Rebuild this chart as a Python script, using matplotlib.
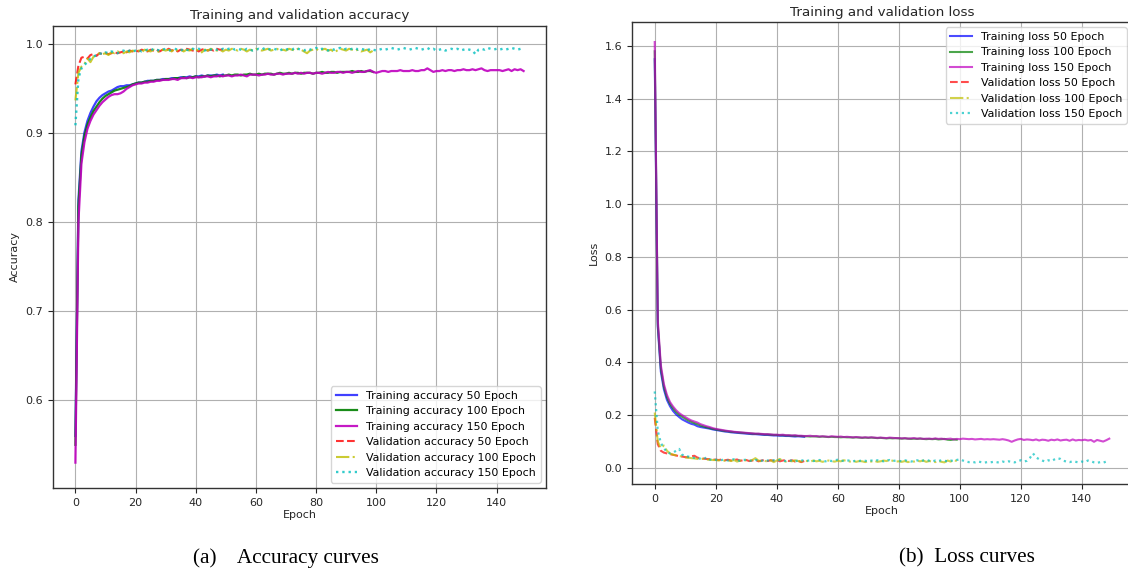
import matplotlib
matplotlib.use("Agg")
import matplotlib.pyplot as plt
import numpy as np

# ---------------- data: accuracy ----------------
acc_train_50 = [
    0.560, 0.825, 0.880, 0.901, 0.914, 0.923, 0.930, 0.936, 0.940, 0.943,
    0.945, 0.947, 0.948, 0.950, 0.952, 0.953, 0.953, 0.954, 0.954, 0.955,
    0.956, 0.957, 0.957, 0.958, 0.959, 0.959, 0.959, 0.960, 0.960, 0.961,
    0.961, 0.961, 0.962, 0.962, 0.962, 0.963, 0.963, 0.963, 0.964, 0.963,
    0.964, 0.964, 0.965, 0.964, 0.965, 0.965, 0.965, 0.966, 0.965, 0.966]
acc_train_100 = [
    0.550, 0.818, 0.875, 0.897, 0.910, 0.918, 0.925, 0.930, 0.935, 0.939,
    0.942, 0.944, 0.946, 0.948, 0.949, 0.950, 0.951, 0.952, 0.953, 0.955,
    0.956, 0.957, 0.957, 0.958, 0.958, 0.959, 0.959, 0.960, 0.960, 0.960,
    0.961, 0.961, 0.961, 0.962, 0.962, 0.962, 0.963, 0.962, 0.963, 0.963,
    0.964, 0.963, 0.964, 0.964, 0.965, 0.964, 0.965, 0.965, 0.964, 0.965,
    0.965, 0.966, 0.965, 0.966, 0.966, 0.965, 0.966, 0.966, 0.967, 0.966,
    0.966, 0.967, 0.966, 0.967, 0.967, 0.967, 0.966, 0.967, 0.968, 0.967,
    0.967, 0.968, 0.967, 0.968, 0.968, 0.967, 0.968, 0.968, 0.968, 0.967,
    0.968, 0.968, 0.969, 0.968, 0.968, 0.969, 0.969, 0.968, 0.969, 0.969,
    0.969, 0.969, 0.970, 0.969, 0.969, 0.970, 0.969, 0.970, 0.970, 0.969]
acc_train_150 = [
    0.530, 0.800, 0.866, 0.890, 0.905, 0.914, 0.921, 0.926, 0.931, 0.935,
    0.938, 0.941, 0.943, 0.944, 0.944, 0.945, 0.947, 0.950, 0.952, 0.954,
    0.955, 0.956, 0.956, 0.957, 0.957, 0.958, 0.958, 0.959, 0.959, 0.960,
    0.960, 0.960, 0.961, 0.961, 0.960, 0.962, 0.962, 0.962, 0.963, 0.962,
    0.963, 0.963, 0.963, 0.964, 0.964, 0.963, 0.964, 0.964, 0.965, 0.964,
    0.965, 0.965, 0.964, 0.965, 0.965, 0.966, 0.965, 0.964, 0.966, 0.966,
    0.966, 0.965, 0.966, 0.966, 0.967, 0.966, 0.966, 0.967, 0.967, 0.966,
    0.967, 0.967, 0.967, 0.968, 0.967, 0.968, 0.967, 0.968, 0.968, 0.967,
    0.968, 0.968, 0.967, 0.968, 0.969, 0.968, 0.968, 0.969, 0.969, 0.968,
    0.969, 0.969, 0.968, 0.969, 0.970, 0.969, 0.969, 0.970, 0.971, 0.969,
    0.968, 0.969, 0.970, 0.970, 0.969, 0.970, 0.970, 0.970, 0.971, 0.970,
    0.970, 0.970, 0.971, 0.970, 0.970, 0.971, 0.971, 0.973, 0.971, 0.969,
    0.970, 0.970, 0.971, 0.970, 0.971, 0.971, 0.970, 0.971, 0.971, 0.972,
    0.971, 0.971, 0.972, 0.971, 0.972, 0.973, 0.971, 0.970, 0.971, 0.971,
    0.971, 0.971, 0.970, 0.971, 0.972, 0.970, 0.972, 0.971, 0.972, 0.970]
acc_val_50 = [
    0.955, 0.976, 0.985, 0.986, 0.984, 0.988, 0.989, 0.987, 0.990, 0.989,
    0.990, 0.989, 0.990, 0.991, 0.990, 0.991, 0.992, 0.991, 0.993, 0.992,
    0.993, 0.992, 0.994, 0.993, 0.992, 0.994, 0.993, 0.994, 0.992, 0.994,
    0.993, 0.995, 0.993, 0.994, 0.992, 0.994, 0.993, 0.995, 0.994, 0.993,
    0.994, 0.992, 0.994, 0.995, 0.993, 0.994, 0.993, 0.995, 0.994, 0.994]
acc_val_100 = [
    0.937, 0.968, 0.975, 0.978, 0.984, 0.980, 0.986, 0.988, 0.990, 0.989,
    0.990, 0.988, 0.991, 0.990, 0.992, 0.991, 0.990, 0.992, 0.991, 0.993,
    0.992, 0.993, 0.991, 0.994, 0.993, 0.992, 0.994, 0.993, 0.991, 0.994,
    0.993, 0.994, 0.992, 0.995, 0.993, 0.994, 0.992, 0.994, 0.993, 0.995,
    0.994, 0.993, 0.991, 0.994, 0.993, 0.995, 0.994, 0.993, 0.994, 0.992,
    0.994, 0.993, 0.995, 0.994, 0.993, 0.995, 0.994, 0.992, 0.994, 0.993,
    0.995, 0.994, 0.993, 0.994, 0.995, 0.993, 0.994, 0.995, 0.993, 0.994,
    0.993, 0.995, 0.994, 0.993, 0.995, 0.994, 0.992, 0.990, 0.993, 0.994,
    0.995, 0.993, 0.994, 0.995, 0.993, 0.994, 0.991, 0.993, 0.995, 0.994,
    0.993, 0.995, 0.994, 0.993, 0.994, 0.992, 0.993, 0.994, 0.991, 0.993]
acc_val_150 = [
    0.909, 0.962, 0.973, 0.977, 0.980, 0.984, 0.986, 0.988, 0.990, 0.989,
    0.991, 0.990, 0.992, 0.991, 0.990, 0.992, 0.993, 0.991, 0.993, 0.992,
    0.993, 0.994, 0.992, 0.993, 0.994, 0.993, 0.995, 0.994, 0.993, 0.994,
    0.995, 0.993, 0.994, 0.995, 0.994, 0.993, 0.995, 0.994, 0.993, 0.995,
    0.994, 0.995, 0.994, 0.993, 0.995, 0.994, 0.995, 0.994, 0.993, 0.995,
    0.994, 0.995, 0.996, 0.994, 0.995, 0.994, 0.993, 0.995, 0.994, 0.993,
    0.994, 0.995, 0.994, 0.996, 0.995, 0.994, 0.995, 0.994, 0.993, 0.995,
    0.994, 0.995, 0.994, 0.996, 0.995, 0.994, 0.993, 0.995, 0.994, 0.995,
    0.996, 0.994, 0.995, 0.994, 0.993, 0.995, 0.994, 0.995, 0.996, 0.994,
    0.995, 0.994, 0.995, 0.996, 0.994, 0.995, 0.994, 0.993, 0.995, 0.994,
    0.993, 0.994, 0.995, 0.994, 0.995, 0.996, 0.995, 0.994, 0.995, 0.996,
    0.995, 0.994, 0.995, 0.996, 0.995, 0.994, 0.995, 0.996, 0.994, 0.995,
    0.993, 0.994, 0.995, 0.993, 0.994, 0.995, 0.994, 0.995, 0.993, 0.994,
    0.995, 0.994, 0.993, 0.989, 0.994, 0.995, 0.994, 0.996, 0.995, 0.994,
    0.995, 0.994, 0.995, 0.994, 0.995, 0.996, 0.995, 0.994, 0.995, 0.995]

# ---------------- data: loss ----------------
loss_train_50 = [
    1.550, 0.535, 0.365, 0.298, 0.258, 0.234, 0.216, 0.203, 0.193, 0.184,
    0.178, 0.172, 0.167, 0.164, 0.158, 0.155, 0.153, 0.151, 0.149, 0.146,
    0.144, 0.142, 0.140, 0.138, 0.137, 0.135, 0.134, 0.133, 0.132, 0.131,
    0.130, 0.129, 0.128, 0.128, 0.127, 0.126, 0.125, 0.125, 0.124, 0.123,
    0.123, 0.122, 0.122, 0.121, 0.121, 0.120, 0.119, 0.120, 0.119, 0.118]
loss_train_100 = [
    1.580, 0.545, 0.378, 0.308, 0.268, 0.243, 0.226, 0.212, 0.202, 0.194,
    0.187, 0.180, 0.175, 0.170, 0.166, 0.161, 0.157, 0.154, 0.151, 0.148,
    0.146, 0.144, 0.142, 0.140, 0.139, 0.137, 0.136, 0.135, 0.134, 0.133,
    0.132, 0.131, 0.130, 0.129, 0.129, 0.128, 0.127, 0.127, 0.126, 0.125,
    0.125, 0.124, 0.124, 0.123, 0.123, 0.122, 0.122, 0.121, 0.121, 0.120,
    0.120, 0.119, 0.120, 0.119, 0.118, 0.119, 0.118, 0.117, 0.118, 0.117,
    0.117, 0.116, 0.117, 0.116, 0.116, 0.115, 0.116, 0.115, 0.114, 0.115,
    0.114, 0.115, 0.114, 0.113, 0.114, 0.113, 0.112, 0.113, 0.112, 0.113,
    0.112, 0.111, 0.112, 0.111, 0.110, 0.111, 0.110, 0.111, 0.110, 0.109,
    0.110, 0.109, 0.110, 0.108, 0.109, 0.110, 0.107, 0.106, 0.108, 0.107]
loss_train_150 = [
    1.615, 0.560, 0.390, 0.318, 0.277, 0.250, 0.233, 0.219, 0.208, 0.200,
    0.193, 0.186, 0.180, 0.176, 0.172, 0.166, 0.162, 0.158, 0.155, 0.151,
    0.148, 0.146, 0.144, 0.142, 0.140, 0.139, 0.137, 0.136, 0.135, 0.134,
    0.133, 0.132, 0.131, 0.130, 0.130, 0.129, 0.128, 0.128, 0.127, 0.126,
    0.126, 0.125, 0.126, 0.124, 0.124, 0.123, 0.124, 0.122, 0.122, 0.121,
    0.121, 0.122, 0.120, 0.121, 0.119, 0.120, 0.119, 0.118, 0.120, 0.119,
    0.118, 0.119, 0.117, 0.118, 0.117, 0.116, 0.117, 0.116, 0.115, 0.116,
    0.115, 0.116, 0.115, 0.114, 0.115, 0.114, 0.113, 0.115, 0.114, 0.113,
    0.113, 0.112, 0.113, 0.111, 0.112, 0.113, 0.111, 0.112, 0.110, 0.111,
    0.111, 0.110, 0.112, 0.110, 0.111, 0.109, 0.110, 0.111, 0.108, 0.110,
    0.109, 0.111, 0.110, 0.109, 0.110, 0.108, 0.109, 0.110, 0.108, 0.109,
    0.108, 0.109, 0.108, 0.107, 0.109, 0.107, 0.104, 0.099, 0.104, 0.108,
    0.110, 0.106, 0.108, 0.107, 0.105, 0.108, 0.104, 0.107, 0.106, 0.103,
    0.107, 0.105, 0.108, 0.104, 0.106, 0.107, 0.103, 0.108, 0.104, 0.106,
    0.105, 0.107, 0.104, 0.106, 0.099, 0.106, 0.103, 0.100, 0.105, 0.111]
loss_val_50 = [
    0.190, 0.090, 0.065, 0.058, 0.055, 0.052, 0.050, 0.047, 0.045, 0.043,
    0.041, 0.040, 0.044, 0.046, 0.039, 0.036, 0.035, 0.034, 0.033, 0.032,
    0.031, 0.030, 0.032, 0.029, 0.031, 0.028, 0.030, 0.032, 0.027, 0.029,
    0.030, 0.026, 0.028, 0.031, 0.025, 0.028, 0.030, 0.026, 0.029, 0.027,
    0.031, 0.025, 0.028, 0.030, 0.026, 0.029, 0.024, 0.027, 0.022, 0.026]
loss_val_100 = [
    0.210, 0.100, 0.075, 0.085, 0.065, 0.055, 0.050, 0.048, 0.045, 0.043,
    0.040, 0.039, 0.037, 0.036, 0.034, 0.033, 0.035, 0.032, 0.031, 0.030,
    0.030, 0.028, 0.031, 0.027, 0.029, 0.026, 0.030, 0.024, 0.028, 0.027,
    0.029, 0.026, 0.030, 0.037, 0.028, 0.025, 0.027, 0.024, 0.029, 0.022,
    0.028, 0.034, 0.026, 0.024, 0.027, 0.025, 0.029, 0.026, 0.024, 0.027,
    0.026, 0.024, 0.028, 0.025, 0.027, 0.023, 0.026, 0.028, 0.025, 0.024,
    0.027, 0.025, 0.029, 0.026, 0.024, 0.027, 0.023, 0.026, 0.025, 0.022,
    0.026, 0.024, 0.027, 0.023, 0.025, 0.028, 0.026, 0.031, 0.027, 0.024,
    0.025, 0.023, 0.026, 0.022, 0.025, 0.024, 0.027, 0.025, 0.028, 0.023,
    0.026, 0.024, 0.022, 0.026, 0.023, 0.021, 0.028, 0.024, 0.030, 0.026]
loss_val_150 = [
    0.290, 0.140, 0.095, 0.075, 0.060, 0.055, 0.058, 0.065, 0.072, 0.050,
    0.045, 0.043, 0.040, 0.038, 0.036, 0.035, 0.033, 0.040, 0.032, 0.030,
    0.031, 0.029, 0.030, 0.032, 0.028, 0.030, 0.033, 0.029, 0.027, 0.030,
    0.031, 0.028, 0.026, 0.030, 0.029, 0.027, 0.030, 0.028, 0.026, 0.029,
    0.027, 0.030, 0.028, 0.026, 0.029, 0.027, 0.025, 0.028, 0.030, 0.026,
    0.027, 0.029, 0.026, 0.028, 0.030, 0.027, 0.025, 0.028, 0.026, 0.029,
    0.031, 0.028, 0.026, 0.029, 0.027, 0.025, 0.028, 0.026, 0.029, 0.027,
    0.025, 0.028, 0.026, 0.029, 0.027, 0.025, 0.028, 0.030, 0.026, 0.028,
    0.027, 0.025, 0.029, 0.026, 0.024, 0.027, 0.029, 0.025, 0.028, 0.031,
    0.027, 0.025, 0.028, 0.026, 0.029, 0.027, 0.025, 0.028, 0.026, 0.030,
    0.033, 0.028, 0.024, 0.022, 0.023, 0.021, 0.024, 0.022, 0.020, 0.022,
    0.021, 0.023, 0.022, 0.020, 0.024, 0.022, 0.025, 0.023, 0.021, 0.026,
    0.029, 0.024, 0.027, 0.038, 0.055, 0.040, 0.033, 0.028, 0.024, 0.029,
    0.026, 0.032, 0.037, 0.034, 0.027, 0.024, 0.022, 0.025, 0.023, 0.021,
    0.024, 0.022, 0.028, 0.025, 0.021, 0.019, 0.022, 0.020, 0.024, 0.023]

acc_labels = ["Training accuracy 50 Epoch", "Training accuracy 100 Epoch",
              "Training accuracy 150 Epoch", "Validation accuracy 50 Epoch",
              "Validation accuracy 100 Epoch", "Validation accuracy 150 Epoch"]
loss_labels = ["Training loss 50 Epoch", "Training loss 100 Epoch",
               "Training loss 150 Epoch", "Validation loss 50 Epoch",
               "Validation loss 100 Epoch", "Validation loss 150 Epoch"]
x_ticks = [0, 20, 40, 60, 80, 100, 120, 140]

W, H = 1128, 574
fig = plt.figure(figsize=(W / 100, H / 100), dpi=100)
plt.rcParams['font.family'] = ['DejaVu Sans']

TICK = 8
LEG = 7.9
TXT = '#262626'

def px_axes(l, r, t, b):
    return [l / W, (H - b) / H, (r - l) / W, (b - t) / H]

def style(ax):
    ax.grid(True, color='#b0b0b0', linewidth=0.8)
    ax.tick_params(labelsize=TICK, colors=TXT, width=0.8, length=3.5)
    for s in ax.spines.values():
        s.set_color('#333333')
        s.set_linewidth(1.0)
    ax.set_xticks(x_ticks)

fmts = ['b-', 'g-', 'm-', 'r--', 'y-.', 'c:']

# accuracy panel
ax1 = fig.add_axes(px_axes(53, 546, 26, 488))
series = [acc_train_50, acc_train_100, acc_train_150, acc_val_50, acc_val_100, acc_val_150]
lws = [1.6, 1.6, 1.6, 1.5, 1.5, 1.7]
alphas = [0.75, 0.9, 0.9, 0.8, 0.8, 0.8]
for s, f, lab, lw, a in zip(series, fmts, acc_labels, lws, alphas):
    ax1.plot(np.arange(len(s)), s, f, label=lab, linewidth=lw, alpha=a)
ax1.set_xlim(-7.45, 156.45)
ax1.set_ylim(0.5015, 1.0206)
ax1.set_yticks([0.6, 0.7, 0.8, 0.9, 1.0])
style(ax1)
ax1.set_title("Training and validation accuracy", fontsize=9.7, color=TXT, pad=5)
ax1.set_xlabel("Epoch", fontsize=TICK, color=TXT, labelpad=2)
ax1.set_ylabel("Accuracy", fontsize=TICK, color=TXT, labelpad=4)
ax1.legend(loc='lower right', fontsize=LEG, framealpha=0.8, edgecolor='#cccccc')

# loss panel
ax2 = fig.add_axes(px_axes(632, 1132, 22, 484))
series = [loss_train_50, loss_train_100, loss_train_150, loss_val_50, loss_val_100, loss_val_150]
lws = [1.5, 1.5, 1.5, 1.5, 1.5, 1.6]
alphas = [0.7, 0.7, 0.7, 0.7, 0.7, 0.7]
for s, f, lab, lw, a in zip(series, fmts, loss_labels, lws, alphas):
    ax2.plot(np.arange(len(s)), s, f, label=lab, linewidth=lw, alpha=a)
ax2.set_xlim(-7.45, 156.45)
ax2.set_ylim(-0.061, 1.691)
ax2.set_yticks([0.0, 0.2, 0.4, 0.6, 0.8, 1.0, 1.2, 1.4, 1.6])
style(ax2)
ax2.set_title("Training and validation loss", fontsize=9.7, color=TXT, pad=4)
ax2.set_xlabel("Epoch", fontsize=TICK, color=TXT, labelpad=2)
ax2.set_ylabel("Loss", fontsize=TICK, color=TXT, labelpad=4)
ax2.legend(loc='upper right', fontsize=LEG, framealpha=0.8, edgecolor='#cccccc')

# captions
fig.text(286 / W, 1 - 558 / H, "(a)    Accuracy curves", family='Liberation Serif',
         fontsize=15.3, ha='center', va='center')
fig.text(967 / W, 1 - 558 / H, "(b)  Loss curves", family='Liberation Serif',
         fontsize=15.3, ha='center', va='center')

fig.savefig("out.png", dpi=100)
